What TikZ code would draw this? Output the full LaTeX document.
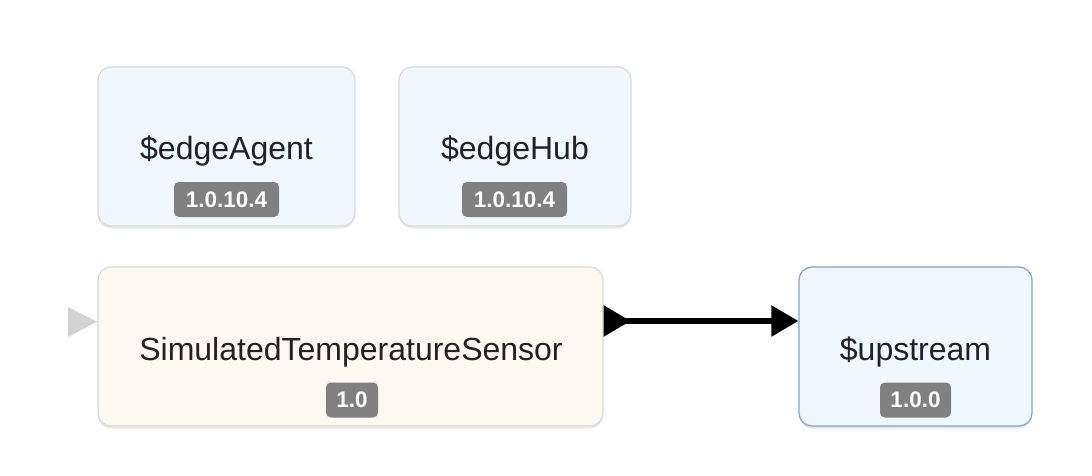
\documentclass[tikz,border=0pt]{standalone}
\usepackage{fontspec}
\setmainfont{Liberation Sans}
\usetikzlibrary{arrows.meta,shadows}
\definecolor{bluefill}{HTML}{F0F7FE}
\definecolor{creamfill}{HTML}{FDF8F1}
\definecolor{boxgray}{HTML}{D9D9D9}
\definecolor{upblue}{HTML}{7FA3D6}
\definecolor{badgegray}{HTML}{808080}
\definecolor{labeltext}{HTML}{222222}
\definecolor{portgray}{HTML}{D3D3D3}
\begin{document}
\begin{tikzpicture}[x=1pt,y=-1pt,
  modbox/.style={draw=boxgray, line width=1.2pt, rounded corners=13pt, minimum height=159pt, inner sep=0pt,
    drop shadow={opacity=0.18, shadow xshift=0pt, shadow yshift=-2.5pt}},
  modlabel/.style={font=\fontsize{32}{36}\selectfont, text=labeltext, inner sep=0pt, anchor=center},
  badge/.style={fill=badgegray, rounded corners=5pt, text=white, font=\fontsize{22.5}{26}\bfseries\selectfont,
    minimum height=35pt, inner xsep=10pt, inner ysep=0pt, anchor=center},
  route/.style={line width=5.5pt, {Triangle[reversed,length=27pt,width=30pt]}-{Triangle[length=27pt,width=30pt]}}
]
\useasboundingbox (0,0) rectangle (1092,476);
% modules
\node[modbox, fill=bluefill, minimum width=257pt] (agent) at (226.5,146.5) {};
\node[modbox, fill=bluefill, minimum width=232pt] (hub) at (515,146.5) {};
\node[modbox, fill=creamfill, minimum width=505pt] (sensor) at (350.5,346.5) {};
\node[modbox, draw=upblue, fill=bluefill, minimum width=233pt] (up) at (915.5,346.5) {};
% labels
\node[modlabel] (agentlbl) at (226.5,151) {\$edgeAgent};
\node[modlabel] (hublbl) at (515,151) {\$edgeHub};
\node[modlabel] (sensorlbl) at (351,352) {SimulatedTemperatureSensor};
\node[modlabel] (uplbl) at (915.5,352) {\$upstream};
% badges
\node[badge, minimum width=105pt] (agentver) at (226.5,199.5) {1.0.10.4};
\node[badge, minimum width=105pt] (hubver) at (514.5,199.5) {1.0.10.4};
\node[badge, minimum width=52pt] (sensorver) at (352,400) {1.0};
\node[badge, minimum width=71pt] (upver) at (915.5,400) {1.0.0};
% input port marker
\fill[portgray] (68,307) -- (97,321.5) -- (68,337) -- cycle;
% route
\coordinate (routestart) at ([yshift=25.5pt]sensor.east);
\coordinate (routeend) at ([yshift=25.5pt]up.west);
\draw[route] (routestart) -- (routeend);
\end{tikzpicture}
\end{document}
